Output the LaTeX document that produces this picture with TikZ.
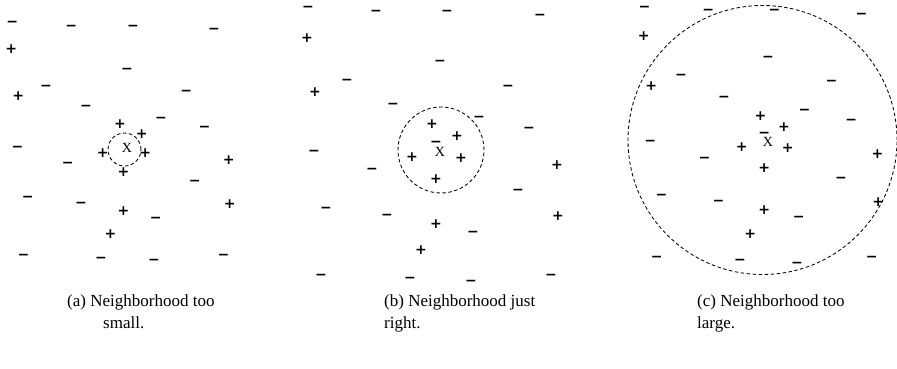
\documentclass[tikz,border=0pt]{standalone}
\usepackage{fontspec}
\setmainfont{Liberation Serif}
\newfontfamily\signfont{DejaVu Sans}
\usetikzlibrary{positioning}

% data points, offsets from the query point x
\newcommand\signlist{
  −/-132/-145, −/-64/-141, −/7/-141, −/100/-137,
  +/-133/-114, −/0/-91, −/-93/-72, +/-125/-60,
  −/68/-66, −/-47/-48, −/39/-35, +/-8/-28,
  +/17/-16, −/89/-24, −/-126/-1, +/-28/5,
  +/21/6, −/-68/17, +/117/13, +/-4/27,
  −/78/38, −/-114/56, −/-53/63, +/118/64,
  +/-4/72, −/33/80, +/-19/98, −/-119/123,
  −/-30/126, −/31/129, −/111/123}

\tikzset{
  sign/.style={font=\signfont\bfseries\fontsize{14}{14}\selectfont,inner sep=0pt,
    text height=9.5pt,text depth=0pt},
  query/.style={font=\fontsize{14}{14}\selectfont,inner sep=0pt},
  nbhd/.style={dash pattern=on 3.5pt off 2.5pt,line width=0.85pt},
  subcap/.style={font=\fontsize{17}{22}\selectfont,inner sep=0pt,
    anchor=north west,align=left}
}

\begin{document}
\begin{tikzpicture}[x=1pt,y=-1pt]
  \useasboundingbox (0,0) rectangle (897,368);

  % (a) too small
  \begin{scope}[shift={(127,148)},scale=0.87]
    \foreach \s/\x/\y [count=\i] in \signlist {
      \node[sign] (a\i) at (\x,\y) {\s};
    }
  \end{scope}
  \node[query] (qa) at (127,148) {X};
  \coordinate (ca) at (124.5,149.5);
  \draw[nbhd] (ca) circle[radius=16.5pt];

  % (b) just right
  \begin{scope}[shift={(440,152)}]
    \foreach \s/\x/\y [count=\i] in \signlist {
      \node[sign] (b\i) at (\x,\y) {\s};
    }
    \node[sign] (b0) at (-4,-10) {−};
  \end{scope}
  \node[query] (qb) at (440,152) {X};
  \coordinate (cb) at (441,150);
  \draw[nbhd] (cb) circle[radius=43pt];

  % (c) too large
  \begin{scope}[shift={(768,142)},scale=0.935]
    \foreach \s/\x/\y [count=\i] in \signlist {
      \node[sign] (c\i) at (\x,\y) {\s};
    }
    \node[sign] (c0) at (-4,-10) {−};
  \end{scope}
  \node[query] (qc) at (768,142) {X};
  \coordinate (cc) at (762.5,140);
  \draw[nbhd] (cc) circle[radius=134.5pt];

  % captions
  \node[subcap] (capa) at (67,294) {(a) Neighborhood too\\\hspace*{36pt}small.};
  \node[subcap] (capb) at (384,294) {(b) Neighborhood just\\right.};
  \node[subcap] (capc) at (697,294) {(c) Neighborhood too\\large.};
\end{tikzpicture}
\end{document}
